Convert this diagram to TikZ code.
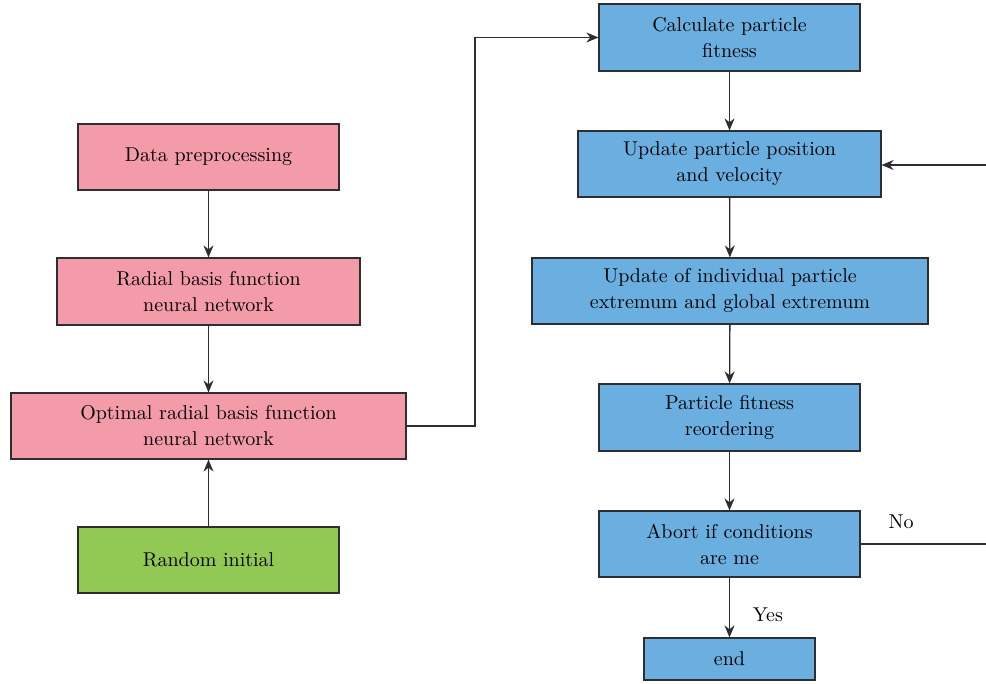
\documentclass[tikz,border=0pt]{standalone}
\usepackage{tikz}
\usetikzlibrary{arrows.meta}

\definecolor{boxpink}{RGB}{244,155,169}
\definecolor{boxblue}{RGB}{107,175,225}
\definecolor{boxgreen}{RGB}{146,200,84}
\definecolor{edgegray}{RGB}{45,45,50}

\begin{document}
\begin{tikzpicture}[x=0.5pt,y=-0.5pt,
        box/.style={rectangle,draw=edgegray,line width=0.6pt,inner sep=0pt,align=center,
            font=\fontsize{10}{13}\selectfont},
        pinkbox/.style={box,fill=boxpink},
        bluebox/.style={box,fill=boxblue},
        greenbox/.style={box,fill=boxgreen},
        link/.style={draw=edgegray,line width=0.65pt,-{Stealth[length=6pt,width=5pt]}}]
        \useasboundingbox (0,0) rectangle (986,684);
        \clip (0,0) rectangle (986,684);

        % Draw nodes
        % Left column
        \node[pinkbox,minimum width=130.5pt,minimum height=33pt] (prep) at (208.5,157) {Data preprocessing};
        \node[pinkbox,minimum width=151.5pt,minimum height=33.5pt] (rbf) at (208.5,291.5) {Radial basis function\\neural network};
        \node[pinkbox,minimum width=197.5pt,minimum height=33pt] (optrbf) at (208.5,426) {Optimal radial basis function\\neural network};
        \node[greenbox,minimum width=130.5pt,minimum height=33pt] (init) at (208.5,560) {Random initial};

        % Right column
        \node[bluebox,minimum width=130.5pt,minimum height=33.5pt] (fit) at (729.5,37.5) {Calculate particle\\fitness};
        \node[bluebox,minimum width=151.5pt,minimum height=33pt] (upd) at (729.5,164) {Update particle position\\and velocity};
        \node[bluebox,minimum width=198pt,minimum height=33pt] (ext) at (730,291) {Update of individual particle\\extremum and global extremum};
        \node[bluebox,minimum width=130.5pt,minimum height=33.5pt] (reord) at (729.5,417.5) {Particle fitness\\reordering};
        \node[bluebox,minimum width=130.5pt,minimum height=33pt] (abort) at (729.5,544) {Abort if conditions\\are me};
        \node[bluebox,minimum width=85.5pt,minimum height=21pt] (stop) at (729.5,659) {end};

        % Corner points of the loops
        \coordinate (c1) at (475,426);
        \coordinate (c2) at (475,37.5);
        \coordinate (c3) at (996,544);
        \coordinate (c4) at (996,165);

        % Draw edges explicitly
        \draw[link] (prep) -- (rbf);
        \draw[link] (rbf) -- (optrbf);
        \draw[link] (init) -- (optrbf);
        \draw[link] (optrbf.east) -- (c1) -- (c2) -- (fit.west);
        \draw[link] (fit) -- (upd);
        \draw[link] (upd) -- (ext);
        \draw[link] (ext) -- (reord);
        \draw[link] (reord) -- (abort);
        \draw[link] (abort) -- node[pos=0.62,right=8pt,font=\fontsize{10}{13}\selectfont] {Yes} (stop);
        \draw[link] (abort.east) -- node[pos=0.3,above=4pt,font=\fontsize{10}{13}\selectfont] {No} (c3) -- (c4) -- (upd.east |- c4);
    \end{tikzpicture}
\end{document}
